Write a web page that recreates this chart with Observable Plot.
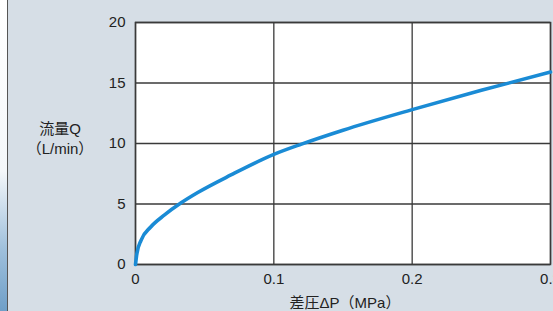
<!DOCTYPE html>
<html><head><meta charset="utf-8">
<script src="https://cdn.jsdelivr.net/npm/d3@7"></script>
<script src="https://cdn.jsdelivr.net/npm/@observablehq/plot@0.6"></script>
<style>
html,body{margin:0;padding:0;width:553px;height:311px;overflow:hidden;background:#d6dee6;font-family:"Liberation Sans",Arial,sans-serif;}
#wrap{position:relative;width:553px;height:311px;}
#strip{position:absolute;left:0;top:0;width:7px;height:311px;background:linear-gradient(to bottom,#ffffff 0%,#f4f7fa 55%,#9fc0dc 80%,#6f9fc8 100%);border-right:1.5px solid #555;}
.lab{position:absolute;color:#222;font-family:"Liberation Sans","Noto Sans CJK JP",sans-serif;font-size:15px;line-height:20px;text-align:center;white-space:nowrap;}
#chart{position:absolute;left:0;top:0;}
</style></head>
<body><div id="wrap"><div id="strip"></div><div id="chart"></div>
<div class="lab" id="ylab" style="left:22px;top:119px;width:76px;">流量Q<br>（L/min）</div>
<div class="lab" id="xlab" style="left:265px;top:293px;width:160px;">差圧ΔP（MPa）</div>
</div>
<script>
const pressure = [0, 0.001, 0.004, 0.011, 0.021, 0.033, 0.045, 0.069, 0.1, 0.12, 0.15, 0.2, 0.25, 0.3];
const flow     = [0, 0.9,   2.0,   3.1,   4.1,   5.1,   5.95,  7.4,   9.1, 9.95, 11.1, 12.8, 14.4, 15.9];
const xTicks = [0, 0.1, 0.2, 0.3];
const yTicks = [0, 5, 10, 15, 20];
const data = pressure.map((p, i) => ({p, q: flow[i]}));

const chart = Plot.plot({
  width: 553, height: 311,
  marginLeft: 135, marginRight: 3, marginTop: 22, marginBottom: 47,
  style: {background: "transparent", fontFamily: "'Liberation Sans', Arial, sans-serif", fontSize: "15px", color: "#222", overflow: "visible"},
  x: {domain: [0, 0.3], ticks: xTicks, tickFormat: d => d === 0 ? "0" : String(d), label: null},
  y: {domain: [0, 20], ticks: yTicks, label: null},
  marks: [
    Plot.frame({fill: "white", stroke: null}),
    Plot.gridX(xTicks, {stroke: "#3a3a3a", strokeOpacity: 1, strokeWidth: 1.3}),
    Plot.gridY(yTicks, {stroke: "#3a3a3a", strokeOpacity: 1, strokeWidth: 1.3}),
    Plot.frame({stroke: "#3a3a3a", strokeWidth: 1.5}),
    Plot.axisX(xTicks, {tickSize: 0, tickPadding: 9, fontSize: 15, fill: "#222", tickFormat: d => d === 0 ? "0" : String(d), label: null}),
    Plot.axisY(yTicks, {tickSize: 0, tickPadding: 10, fontSize: 15, fill: "#222", label: null}),
    Plot.line(data, {x: "p", y: "q", stroke: "#1a8bd5", strokeWidth: 3.6, curve: "monotone-x"})
  ]
});
document.getElementById("chart").appendChild(chart);
</script></body></html>
